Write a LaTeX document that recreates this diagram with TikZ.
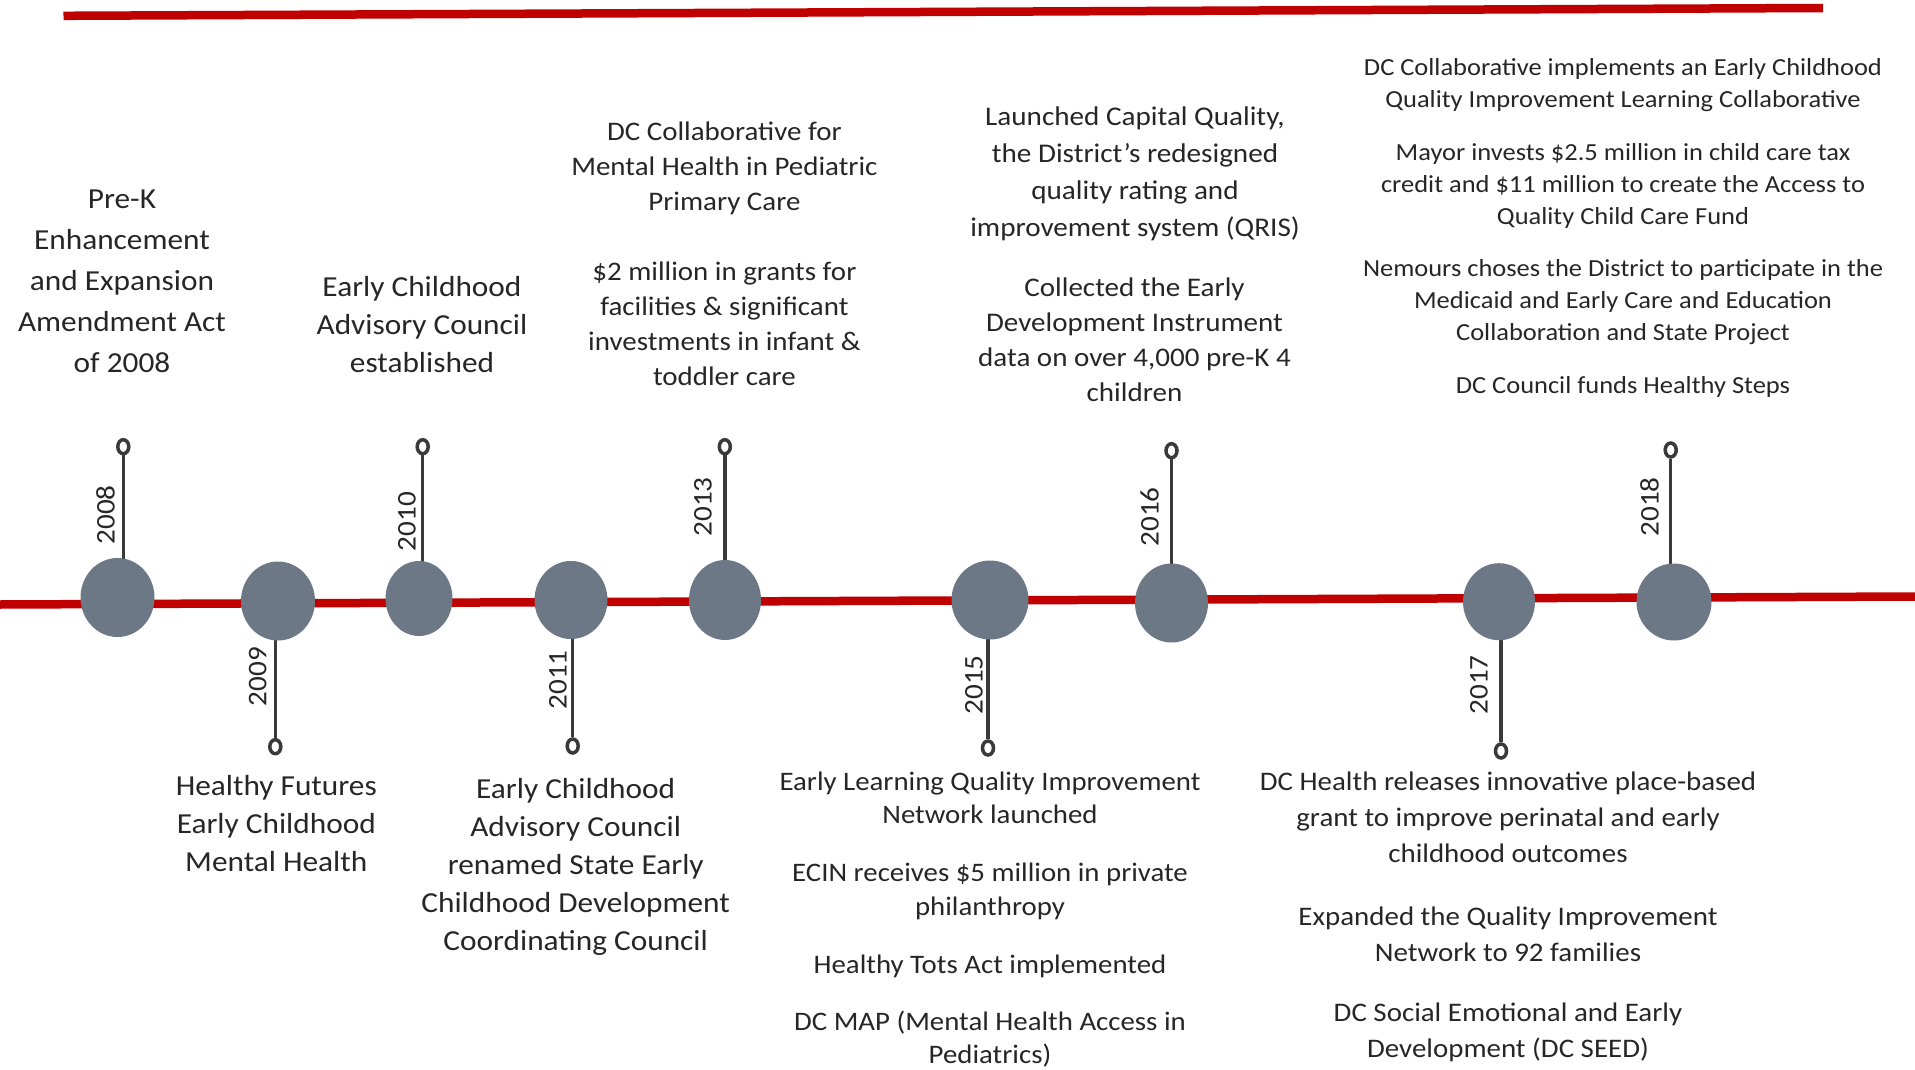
\documentclass[tikz,border=0pt]{standalone}
\usepackage{fontspec}
\setmainfont{Carlito}[FakeStretch=1.08]
\usetikzlibrary{shapes.geometric,backgrounds}
\definecolor{lineRed}{HTML}{C00000}
\definecolor{ballGray}{RGB}{108,120,134}
\definecolor{stemGray}{HTML}{3A3A3A}
\begin{document}
\begin{tikzpicture}[x=1pt,y=-1pt]
	\tikzstyle{Ball} = [ellipse, fill=ballGray, minimum width=74pt, minimum height=79pt, inner sep=0pt]
	\tikzstyle{Ring} = [ellipse, draw=stemGray, line width=3.5pt, fill=white, minimum width=11pt, minimum height=14pt, inner sep=0pt]
	\tikzstyle{Year} = [rotate=90, anchor=south, inner sep=0pt, font=\fontsize{27}{33}\selectfont, text=black!85]
	\tikzstyle{Event} = [align=center, anchor=north, inner sep=0pt, text=black!85]
	\tikzstyle{Stem} = [line width=3.5pt, stemGray]
	\tikzstyle{Rule} = [line width=8.5pt, lineRed]

	\useasboundingbox (0,0) rectangle (1915,1070);

	% red rules
	\coordinate (topW) at (63.5,15.8);
	\coordinate (topE) at (1823,8);
	\coordinate (axisW) at (0,604.5);
	\coordinate (axisE) at (1915,596.5);
	\draw [Rule] (topW) -- (topE);

	% year balls
	\node (b2008) [Ball] at (117.5,597.5) {};
	\node (b2009) [Ball] at (278,601) {};
	\node (b2010) [Ball, minimum width=67pt, minimum height=75pt] at (419,598.5) {};
	\node (b2011) [Ball, minimum width=73pt, minimum height=78pt] at (571,600) {};
	\node (b2013) [Ball, minimum width=72pt, minimum height=80pt] at (725,600) {};
	\node (b2015) [Ball, minimum width=77pt] at (990,600) {};
	\node (b2016) [Ball, minimum width=73pt] at (1171.5,603) {};
	\node (b2017) [Ball, minimum width=72pt, minimum height=77pt] at (1499,601.7) {};
	\node (b2018) [Ball, minimum width=75pt, minimum height=77pt] at (1674,602) {};

	% pin ends
	\node (r2008) [Ring] at (123.3,446.7) {};
	\node (r2009) [Ring] at (275.3,746.7) {};
	\node (r2010) [Ring] at (422.7,446.7) {};
	\node (r2011) [Ring] at (572.7,746) {};
	\node (r2013) [Ring] at (724.8,446.7) {};
	\node (r2015) [Ring] at (988,748) {};
	\node (r2016) [Ring] at (1171.5,450.7) {};
	\node (r2017) [Ring] at (1501,751) {};
	\node (r2018) [Ring] at (1670.7,450) {};

	\begin{pgfonlayer}{background}
		\draw [Rule] (axisW) -- (axisE);
		\draw [Stem] (r2008.south) -- (r2008.south |- b2008.center);
		\draw [Stem] (r2009.north) -- (r2009.north |- b2009.center);
		\draw [Stem] (r2010.south) -- (r2010.south |- b2010.center);
		\draw [Stem] (r2011.north) -- (r2011.north |- b2011.center);
		\draw [Stem] (r2013.south) -- (r2013.south |- b2013.center);
		\draw [Stem] (r2015.north) -- (r2015.north |- b2015.center);
		\draw [Stem] (r2016.south) -- (r2016.south |- b2016.center);
		\draw [Stem] (r2017.north) -- (r2017.north |- b2017.center);
		\draw [Stem] (r2018.south) -- (r2018.south |- b2018.center);
	\end{pgfonlayer}

	% years
	\node (y2008) [Year] at (115,515) {2008};
	\node (y2009) [Year] at (266.7,676.7) {2009};
	\node (y2010) [Year] at (416,521.7) {2010};
	\node (y2011) [Year] at (567,680) {2011};
	\node (y2013) [Year] at (712,507) {2013};
	\node (y2015) [Year] at (983,685) {2015};
	\node (y2016) [Year] at (1159,517) {2016};
	\node (y2017) [Year] at (1488,685) {2017};
	\node (y2018) [Year] at (1659,507) {2018};

	% events above the line
	\node (t2008) [Event, font=\fontsize{29}{41}\selectfont] at (122,179.6) {\strut Pre-K\\Enhancement\\and Expansion\\Amendment Act\\of 2008};
	\node (t2010) [Event, font=\fontsize{29}{38}\selectfont] at (422,270.1) {\strut Early Childhood\\Advisory Council\\established};
	\node (t2013a) [Event, font=\fontsize{26.8}{35}\selectfont] at (724.4,116.2) {\strut DC Collaborative for\\Mental Health in Pediatric\\Primary Care};
	\node (t2013b) [Event, font=\fontsize{26.8}{35}\selectfont] at (724.4,255.5) {\strut \$2 million in grants for\\facilities \& significant\\investments in infant \&\\toddler care};
	\node (t2016a) [Event, font=\fontsize{27}{37}\selectfont] at (1135,99.1) {\strut Launched Capital Quality,\\the District’s redesigned\\quality rating and\\improvement system (QRIS)};
	\node (t2016b) [Event, font=\fontsize{26.9}{35}\selectfont] at (1134.5,272.2) {\strut Collected the Early\\Development Instrument\\data on over 4,000 pre-K 4\\children};
	\node (t2018a) [Event, font=\fontsize{24.5}{32}\selectfont] at (1623,52.6) {\strut DC Collaborative implements an Early Childhood\\Quality Improvement Learning Collaborative};
	\node (t2018b) [Event, font=\fontsize{24.5}{32}\selectfont] at (1623,137.6) {\strut Mayor invests \$2.5 million in child care tax\\credit and \$11 million to create the Access to\\Quality Child Care Fund};
	\node (t2018c) [Event, font=\fontsize{24.5}{32}\selectfont] at (1623,254.3) {\strut Nemours choses the District to participate in the\\Medicaid and Early Care and Education\\Collaboration and State Project};
	\node (t2018d) [Event, font=\fontsize{24.5}{32}\selectfont] at (1623,370.9) {\strut DC Council funds Healthy Steps};

	% events below the line
	\node (t2009) [Event, font=\fontsize{29}{38.3}\selectfont] at (276.3,768.2) {\strut Healthy Futures\\Early Childhood\\Mental Health};
	\node (t2011) [Event, font=\fontsize{29}{38}\selectfont] at (575.7,771.7) {\strut Early Childhood\\Advisory Council\\renamed State Early\\Childhood Development\\Coordinating Council};
	\node (t2015a) [Event, font=\fontsize{26.7}{33.3}\selectfont] at (990,766.7) {\strut Early Learning Quality Improvement\\Network launched};
	\node (t2015b) [Event, font=\fontsize{26.7}{33.3}\selectfont] at (990,858.4) {\strut ECIN receives \$5 million in private\\philanthropy};
	\node (t2015c) [Event, font=\fontsize{26.7}{33.3}\selectfont] at (990,950) {\strut Healthy Tots Act implemented};
	\node (t2015d) [Event, font=\fontsize{26.7}{33.3}\selectfont] at (990,1006.7) {\strut DC MAP (Mental Health Access in\\Pediatrics)};
	\node (t2017a) [Event, font=\fontsize{26.8}{36}\selectfont] at (1508,764.8) {\strut DC Health releases innovative place-based\\grant to improve perinatal and early\\childhood outcomes};
	\node (t2017b) [Event, font=\fontsize{26.8}{36}\selectfont] at (1508,899.8) {\strut Expanded the Quality Improvement\\Network to 92 families};
	\node (t2017c) [Event, font=\fontsize{26.8}{36}\selectfont] at (1508,996.5) {\strut DC Social Emotional and Early\\Development (DC SEED)};
\end{tikzpicture}
\end{document}
